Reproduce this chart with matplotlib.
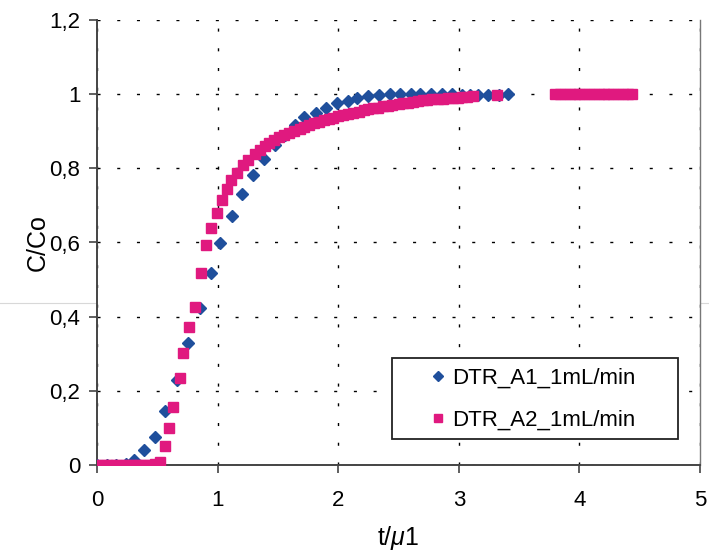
import matplotlib
matplotlib.use("Agg")
import matplotlib.pyplot as plt
from matplotlib.lines import Line2D
from matplotlib.patches import Rectangle

# ---- data ----
a1_x = [0.00, 0.08, 0.16, 0.24, 0.31, 0.39, 0.48, 0.564, 0.66, 0.755, 0.854, 0.945,
        1.02, 1.117, 1.20, 1.29, 1.385, 1.476, 1.56, 1.64, 1.72, 1.82, 1.90, 1.99,
        2.08, 2.16, 2.25, 2.34, 2.43, 2.51, 2.60, 2.68, 2.77, 2.86, 2.94, 3.03,
        3.09, 3.16, 3.24, 3.33, 3.41]
a1_y = [0.0, 0.0, 0.0, 0.003, 0.013, 0.04, 0.075, 0.146, 0.23, 0.33, 0.423, 0.518,
        0.598, 0.671, 0.73, 0.782, 0.825, 0.862, 0.89, 0.918, 0.938, 0.95, 0.962, 0.975,
        0.982, 0.99, 0.996, 0.998, 1.0, 1.0, 1.0, 1.0, 1.0, 1.0, 1.0, 0.999,
        0.998, 0.998, 0.998, 0.999, 1.0]

a2_x = [0.00, 0.04, 0.08, 0.12, 0.16, 0.20, 0.24, 0.28, 0.32, 0.36, 0.40, 0.44, 0.48, 0.52,
        0.564, 0.60, 0.63, 0.688, 0.715, 0.763, 0.813, 0.862, 0.904, 0.945, 0.993,
        1.034, 1.075, 1.115, 1.16, 1.21, 1.25, 1.31, 1.35, 1.39, 1.43, 1.47, 1.51,
        1.55, 1.59, 1.63, 1.68, 1.72, 1.76, 1.80, 1.84, 1.88, 1.92, 1.96, 2.00,
        2.04, 2.08, 2.12, 2.17, 2.21, 2.25, 2.29, 2.33, 2.37, 2.41, 2.45, 2.50,
        2.54, 2.58, 2.62, 2.66, 2.70, 2.74, 2.78, 2.83, 2.87, 2.91, 2.95, 2.99,
        3.03, 3.07, 3.12, 3.32,
        3.80, 3.84, 3.88, 3.92, 3.96, 4.00, 4.04, 4.08, 4.12, 4.16, 4.20, 4.24,
        4.28, 4.32, 4.36, 4.40, 4.44]
a2_y = [0.0, 0.0, 0.0, 0.0, 0.0, 0.0, 0.0, 0.0, 0.0, 0.0, 0.0, 0.0, 0.002, 0.008,
        0.051, 0.10, 0.157, 0.234, 0.303, 0.372, 0.426, 0.518, 0.593, 0.64, 0.68,
        0.714, 0.744, 0.768, 0.788, 0.808, 0.822, 0.838, 0.85, 0.86, 0.869, 0.877, 0.884,
        0.89, 0.896, 0.902, 0.907, 0.912, 0.917, 0.921, 0.925, 0.929, 0.933, 0.937, 0.940,
        0.944, 0.947, 0.950, 0.953, 0.956, 0.959, 0.962, 0.964, 0.967, 0.969, 0.971, 0.973,
        0.975, 0.977, 0.979, 0.981, 0.983, 0.984, 0.986, 0.987, 0.988, 0.989, 0.990, 0.991,
        0.992, 0.993, 0.994, 0.998,
        1.0, 1.0, 1.0, 1.0, 1.0, 1.0, 1.0, 1.0, 1.0, 1.0, 1.0, 1.0,
        1.0, 1.0, 1.0, 1.0, 1.0]

series_names = ["DTR_A1_1mL/min", "DTR_A2_1mL/min"]
x_ticks = [0, 1, 2, 3, 4, 5]
y_ticks = [0, 0.2, 0.4, 0.6, 0.8, 1.0, 1.2]
y_tick_labels = ["0", "0,2", "0,4", "0,6", "0,8", "1", "1,2"]
x_label = r"t/$\mu$1"
y_label = "C/Co"

BLUE = "#1f4f9c"
PINK = "#e0197f"

plt.rcParams["font.family"] = ["Liberation Sans", "DejaVu Sans"]
plt.rcParams["mathtext.fontset"] = "custom"
plt.rcParams["mathtext.rm"] = "Liberation Sans"
plt.rcParams["mathtext.it"] = "Liberation Sans:italic"

fig = plt.figure(figsize=(7.09, 5.55), dpi=100)
ax = fig.add_axes([97 / 709, 90 / 555, 603 / 709, 445 / 555])

ax.plot(a1_x, a1_y, linestyle="none", marker="D", markersize=6.4,
        color=BLUE, markeredgecolor=BLUE, label=series_names[0], zorder=3)
ax.plot(a2_x, a2_y, linestyle="none", marker="s", markersize=7.2,
        color=PINK, markeredgecolor=PINK, label=series_names[1], zorder=4)

ax.set_xlim(0, 5)
ax.set_ylim(0, 1.2)
ax.set_xticks(x_ticks)
ax.set_xticklabels([str(t) for t in x_ticks])
ax.set_yticks(y_ticks)
ax.set_yticklabels(y_tick_labels)
ax.tick_params(axis="both", direction="out", length=6, width=1.2, color="#444444",
               labelsize=16)
ax.tick_params(axis="x", pad=12)
ax.tick_params(axis="y", pad=6)

ax.grid(True, color="black", linestyle=(0, (2.2, 12)), linewidth=1.0)
ax.set_axisbelow(True)

for side in ["left", "bottom"]:
    ax.spines[side].set_color("#444444")
    ax.spines[side].set_linewidth(1.4)
ax.spines["right"].set_color("#777777")
ax.spines["right"].set_linewidth(1.0)
ax.spines["top"].set_visible(False)

ax.set_xlabel(x_label, fontsize=18, labelpad=9)
ax.set_ylabel(y_label, fontsize=18, labelpad=0)

# legend: content without frame, frame drawn as a box
leg = ax.legend(loc="center left", bbox_to_anchor=(0.555, 0.148), fontsize=16,
                frameon=False, handlelength=0.6, handletextpad=0.3,
                borderpad=0, labelspacing=0.95, markerscale=0.75, borderaxespad=0)
ax.add_patch(Rectangle((0.489, 0.058), 0.9635 - 0.489, 0.240 - 0.058,
                       transform=ax.transAxes, fill=True, facecolor="white",
                       edgecolor="#222222", linewidth=1.3, zorder=5))
leg.set_zorder(6)

# faint horizontal scan line across the page
fig.add_artist(Line2D([0, 1], [1 - 303 / 555, 1 - 303 / 555], color="#d8d8d8",
                      linewidth=0.8, transform=fig.transFigure, zorder=0))

fig.savefig("out.png", dpi=100)
